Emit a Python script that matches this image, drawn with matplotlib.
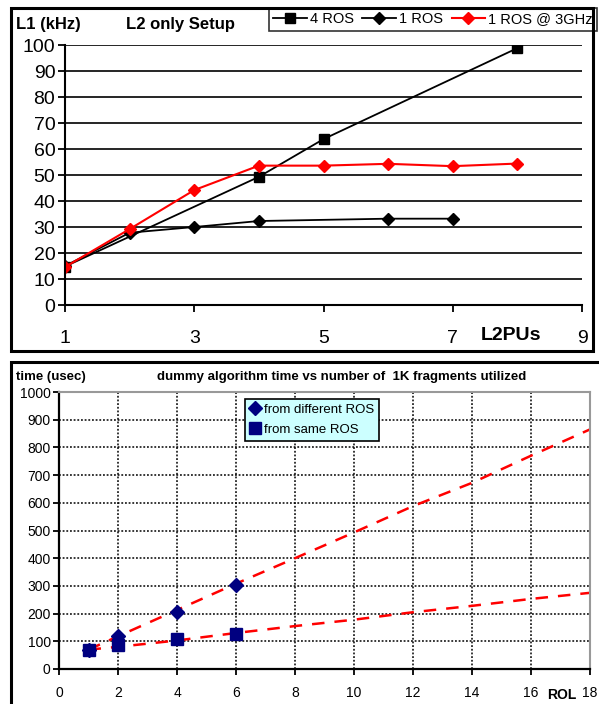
import matplotlib
matplotlib.use("Agg")
from matplotlib import pyplot as plt
from matplotlib.patches import Rectangle

plt.rcParams['font.family'] = ['Liberation Sans', 'DejaVu Sans']

# top chart: L1 rate vs number of L2PUs
x_4ros = [1, 4, 5, 8]
y_4ros = [14.8, 49.3, 63.8, 98.8]
x_1ros = [1, 2, 3, 4, 6, 7]
y_1ros = [15.0, 27.8, 30.0, 32.3, 33.2, 33.2]
x_3ghz = [1, 2, 3, 4, 5, 6, 7, 8]
y_3ghz = [14.6, 29.2, 44.2, 53.6, 53.6, 54.3, 53.4, 54.4]

# bottom chart: algorithm time vs ROL count
rol_diff = [1, 2, 4, 6]
t_diff = [70, 120, 207, 302]
rol_same = [1, 2, 4, 6]
t_same = [70, 85, 107, 127]
# trend lines
trend_x = [1, 2, 4, 6, 8, 10, 12, 14, 16, 18]
trend_diff = [70, 118, 213, 308, 400, 493, 588, 672, 770, 865]
trend_same = [70, 80, 103, 130, 155, 178, 205, 228, 253, 275]

W, H = 599, 704
fig = plt.figure(figsize=(W / 100, H / 100), dpi=100)


def box(l, t, r, b):
    return [l / W, 1 - b / H, (r - l) / W, (b - t) / H]


# panel frames
for l, t, r, b in [(11, 8, 593, 351), (11, 362, 604, 710)]:
    fig.patches.append(Rectangle((l / W, 1 - b / H), (r - l) / W, (b - t) / H,
                                 transform=fig.transFigure, fill=False,
                                 edgecolor='black', lw=2.2, clip_on=False))

# ---- top chart ----
ax1 = fig.add_axes(box(65, 45, 582, 305))
ax1.plot(x_4ros, y_4ros, color='black', lw=1.3, marker='s', ms=7,
         label='4 ROS')
ax1.plot(x_1ros, y_1ros, color='black', lw=1.3, marker='D', ms=6,
         label='1 ROS')
ax1.plot(x_3ghz, y_3ghz, color='red', lw=1.5, marker='D', ms=6,
         label='1 ROS @ 3GHz')
ax1.set_xlim(1, 9)
ax1.set_ylim(0, 100)
ax1.set_yticks(range(0, 101, 10))
ax1.set_xticks([1, 3, 5, 7, 9])
ax1.yaxis.grid(True, color='black', lw=1.2)
ax1.set_axisbelow(True)
for s in ['top', 'right']:
    ax1.spines[s].set_visible(False)
for s in ['left', 'bottom']:
    ax1.spines[s].set_linewidth(1.5)
ax1.tick_params(axis='y', labelsize=14, direction='out', length=5, width=1.3,
                pad=2)
ax1.tick_params(axis='x', labelsize=14, direction='out', length=5, width=1.3,
                pad=13)
fig.text(16 / W, 1 - 25 / H, 'L1 (kHz)', fontsize=12, fontweight='bold',
         va='center')
fig.text(126 / W, 1 - 25 / H, 'L2 only Setup', fontsize=12,
         fontweight='bold', va='center')
fig.text(541 / W, 1 - 335 / H, 'L2PUs', fontsize=14, fontweight='bold',
         va='center', ha='right')
leg1 = ax1.legend(loc='upper right', bbox_to_anchor=(597 / W, 1 - 8 / H),
                  bbox_transform=fig.transFigure, ncol=3, fontsize=10.5,
                  frameon=True, fancybox=False, borderpad=0.3,
                  handlelength=2.3, handletextpad=0.2, columnspacing=0.6,
                  borderaxespad=0)
leg1.get_frame().set_edgecolor('black')
leg1.get_frame().set_linewidth(1.2)

# ---- bottom chart ----
ax2 = fig.add_axes(box(59, 392, 590, 669))
ax2.plot(trend_x, trend_diff, color='red', lw=1.8, ls=(0, (5, 4)))
ax2.plot(trend_x, trend_same, color='red', lw=1.8, ls=(0, (5, 4)))
ax2.plot(rol_diff, t_diff, ls='none', marker='D', ms=7, color='#000080',
         label='from different ROS')
ax2.plot(rol_same, t_same, ls='none', marker='s', ms=9, color='#000080',
         label='from same ROS')
ax2.set_xlim(0, 18)
ax2.set_ylim(0, 1000)
ax2.set_xticks(range(0, 19, 2))
ax2.set_yticks(range(0, 1001, 100))
ax2.grid(True, color='black', lw=1.1, ls=(0, (1.2, 1.2)))
ax2.set_axisbelow(True)
for s in ['top', 'right']:
    ax2.spines[s].set_color('#999999')
    ax2.spines[s].set_linewidth(1.5)
for s in ['left', 'bottom']:
    ax2.spines[s].set_linewidth(1.6)
ax2.tick_params(labelsize=10, direction='out', length=4, width=1.3, pad=8)
ax2.tick_params(axis='y', pad=2)
fig.text(16 / W, 1 - 377 / H, 'time (usec)', fontsize=9.5, fontweight='bold',
         va='center')
fig.text(342 / W, 1 - 377 / H,
         'dummy algorithm time vs number of  1K fragments utilized',
         fontsize=9.5, fontweight='bold', va='center', ha='center')
fig.text(562 / W, 1 - 695 / H, 'ROL', fontsize=10, fontweight='bold',
         va='center', ha='center')
leg2 = ax2.legend(loc='upper left', bbox_to_anchor=(245 / W, 1 - 399 / H),
                  bbox_transform=fig.transFigure, fontsize=9.5, frameon=True,
                  fancybox=False, handlelength=0.8, handletextpad=0.3,
                  borderpad=0.35, labelspacing=0.6, borderaxespad=0,
                  facecolor='#CCFFFF', framealpha=1)
leg2.get_frame().set_edgecolor('black')
leg2.get_frame().set_linewidth(1.2)

fig.savefig('out.png', dpi=100)
